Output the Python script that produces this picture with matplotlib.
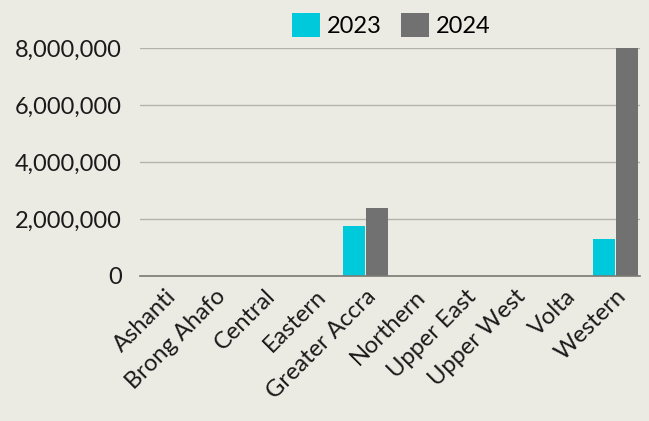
import numpy as np
import matplotlib
matplotlib.use('Agg')
import matplotlib.pyplot as plt
from matplotlib.ticker import FuncFormatter

plt.rcParams['font.family'] = ['Lato', 'DejaVu Sans']

# data
regions = ['Ashanti', 'Brong Ahafo', 'Central', 'Eastern', 'Greater Accra',
           'Northern', 'Upper East', 'Upper West', 'Volta', 'Western']
vals_2023 = [0, 0, 0, 0, 1750000, 0, 0, 0, 0, 1300000]
vals_2024 = [0, 0, 0, 0, 2390000, 0, 0, 0, 0, 7990000]

bg = '#EBEBE3'
c23 = '#00C9DB'
c24 = '#717171'

fig = plt.figure(figsize=(6.49, 4.21), dpi=100, facecolor=bg)
ax = fig.add_axes([140/649, 1-276/421, 500/649, 228/421], facecolor=bg)

x = np.arange(len(regions))
w = 0.44
ax.bar(x - w/2 - 0.01, vals_2023, w, color=c23, label='2023', zorder=3)
ax.bar(x + w/2 + 0.01, vals_2024, w, color=c24, label='2024', zorder=3)

ax.set_xlim(-0.5, len(regions) - 0.5)
ax.set_ylim(0, 8000000)
ax.set_yticks([0, 2000000, 4000000, 6000000, 8000000])
ax.yaxis.set_major_formatter(FuncFormatter(lambda v, p: f'{int(v):,}'))
ax.grid(axis='y', color='#B3B3AB', linewidth=1, zorder=0)
for s in ['top', 'right', 'left']:
    ax.spines[s].set_visible(False)
ax.spines['bottom'].set_color('#7A7A74')
ax.spines['bottom'].set_linewidth(1.2)
ax.spines['bottom'].set_zorder(4)
ax.tick_params(axis='both', length=0, labelsize=17, colors='#1A1A1A')
ax.tick_params(axis='y', pad=13)
ax.tick_params(axis='x', pad=7)
ax.set_xticks(x)
ax.set_xticklabels(regions, rotation=45, ha='right', rotation_mode='anchor')

fig.legend(loc='upper center', bbox_to_anchor=(0.603, 1.02), ncol=2, frameon=False,
           fontsize=17, handlelength=1.2, handleheight=1.2, handletextpad=0.3,
           columnspacing=0.8)

fig.savefig('out.png', dpi=100, facecolor=bg)
